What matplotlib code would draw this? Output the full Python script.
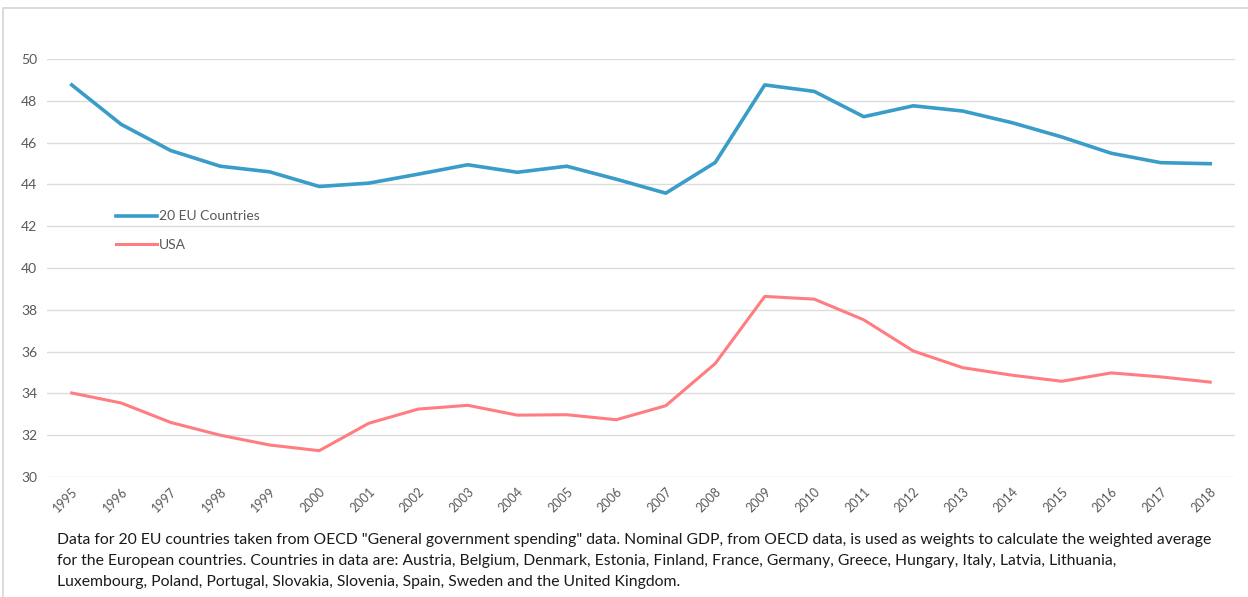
"""
Government spending as share of GDP: 20 EU countries vs USA
"""

import matplotlib
matplotlib.use('Agg')
import matplotlib.pyplot as plt
from matplotlib.patches import Rectangle

years = list(range(1995, 2019))

eu_spending = [48.76, 46.87, 45.62, 44.87, 44.60, 43.90, 44.06, 44.49, 44.94, 44.58,
               44.87, 44.25, 43.58, 45.05, 48.76, 48.45, 47.24, 47.76, 47.51, 46.95,
               46.27, 45.49, 45.04, 44.99]

usa_spending = [34.02, 33.54, 32.61, 32.00, 31.53, 31.26, 32.57, 33.25, 33.43, 32.96,
                32.98, 32.74, 33.41, 35.43, 38.64, 38.51, 37.52, 36.03, 35.23, 34.87,
                34.58, 34.98, 34.79, 34.54]

y_ticks = [30, 32, 34, 36, 38, 40, 42, 44, 46, 48, 50]

footnote = ('Data for 20 EU countries taken from OECD "General government spending" data. '
            'Nominal GDP, from OECD data, is used as weights to calculate the weighted average\n'
            'for the European countries. Countries in data are: Austria, Belgium, Denmark, Estonia, '
            'Finland, France, Germany, Greece, Hungary, Italy, Latvia, Lithuania,\n'
            'Luxembourg, Poland, Portugal, Slovakia, Slovenia, Spain, Sweden and the United Kingdom.')

plt.rcParams['font.family'] = ['Lato', 'DejaVu Sans']

W, H = 1248, 597
fig = plt.figure(figsize=(W / 100, H / 100), dpi=100)
fig.patch.set_facecolor('white')

# light chart-area border (top and left visible only)
fig.patches.append(Rectangle((3 / W, -0.05), 1.1, 1 - 8 / H + 0.05,
                             transform=fig.transFigure, fill=False,
                             edgecolor='#D4D4D4', linewidth=1.2))

ax = fig.add_axes([47 / W, 1 - 477 / H, (1235 - 47) / W, (477 - 59) / H])

ax.plot(years, eu_spending, color='#3A9CC8', linewidth=2.6, label='20 EU Countries')
ax.plot(years, usa_spending, color='#FF7C80', linewidth=2.2, label='USA')

ax.set_xlim(1994.5, 2018.5)
ax.set_ylim(30, 50)
ax.set_yticks(y_ticks)
ax.set_xticks(years)
ax.set_xticklabels([str(y) for y in years], rotation=45, ha='right',
                   rotation_mode='anchor', fontsize=9, color='#595959')
ax.tick_params(axis='y', labelsize=10, labelcolor='#595959', length=0, pad=7)
ax.tick_params(axis='x', length=0, pad=6)

ax.grid(axis='y', color='#DCDCDC', linewidth=1.0)
ax.set_axisbelow(True)
for spine in ax.spines.values():
    spine.set_visible(False)

leg = ax.legend(loc='upper left', bbox_to_anchor=(103 / W, 1 - 198 / H),
                bbox_transform=fig.transFigure, frameon=False, fontsize=10,
                handlelength=3.0, handletextpad=0.15, labelspacing=1.2)
for text in leg.get_texts():
    text.set_color('#595959')

fig.text(57 / W, 1 - 533 / H, footnote, fontsize=11.3, color='#1A1A1A',
         va='top', ha='left', linespacing=1.65)

plt.savefig('out.png', dpi=100)
plt.close()
